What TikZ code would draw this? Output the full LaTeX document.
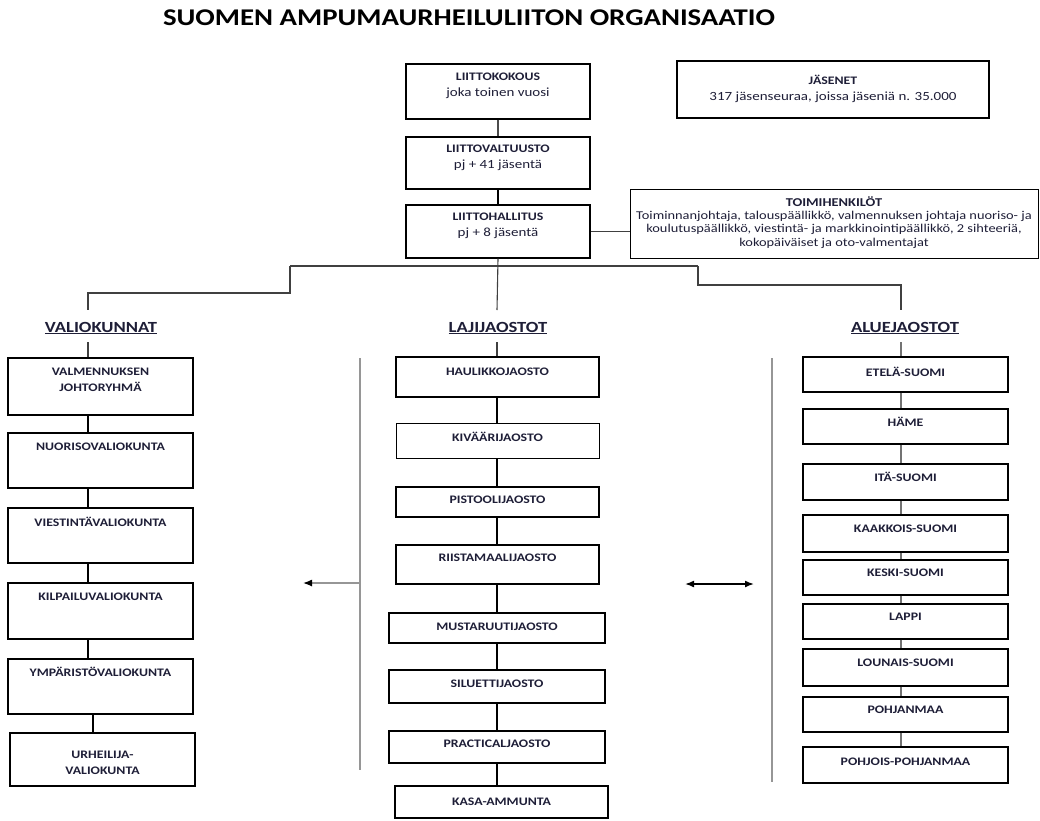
\documentclass[tikz,border=0pt]{standalone}
\usepackage{fontspec}
\setmainfont[FakeStretch=1.2]{Carlito}
\usetikzlibrary{arrows.meta}
\definecolor{txt}{RGB}{30,30,55}
\definecolor{vline}{RGB}{150,150,150}
\tikzset{
  box/.style={draw=black, line width=1.4pt, rectangle, inner sep=0pt},
  thinbox/.style={line width=1.0pt},
  lbl/.style={inner sep=0pt, align=center, text=txt, font=\fontsize{11.5}{16}\selectfont\bfseries},
  head/.style={inner sep=0pt, text=txt, font=\fontsize{15.5}{18}\selectfont\bfseries},
  conn/.style={draw=black, line width=1.3pt},
  tree/.style={draw=black!75, line width=1.1pt},
  gconn/.style={draw=black!55, line width=1.1pt},
  vsep/.style={draw=vline, line width=1.3pt}
}
\newcommand\sm[1]{{\fontsize{12.5}{16}\selectfont\mdseries #1}}
\newcommand\mkbox[8][]{%
  \pgfmathsetmacro\mbw{#5-#3}%
  \pgfmathsetmacro\mbh{#6-#4}%
  \pgfmathsetmacro\mbx{(#3+#5)/2}%
  \pgfmathsetmacro\mby{(#4+#6)/2}%
  \node[box,#1,minimum width=\mbw pt,minimum height=\mbh pt] (#2) at (\mbx,\mby) {};%
  \node[lbl] (#2t) at (\mbx,#7) {#8};}
\begin{document}
\begin{tikzpicture}[x=1pt,y=-1pt]
\useasboundingbox (0,0) rectangle (1040,820);
% title
\node[inner sep=0pt, text=black, font=\fontsize{24}{28}\selectfont\bfseries] (title) at (469,18) {SUOMEN AMPUMAURHEILULIITON ORGANISAATIO};
% top boxes
\mkbox{kok}{406}{64}{590}{119}{86}{LIITTOKOKOUS\\\sm{joka toinen vuosi}}
\mkbox{valt}{406}{137}{590}{189}{158}{LIITTOVALTUUSTO\\\sm{pj + 41 jäsentä}}
\mkbox{hall}{406}{205}{590}{258}{226}{LIITTOHALLITUS\\\sm{pj + 8 jäsentä}}
\mkbox{jas}{677}{61}{989}{118}{89}{JÄSENET\\\sm{317 jäsenseuraa, joissa jäseniä n. 35.000}}
\node[box,thinbox,minimum width=408pt,minimum height=69pt] (toimi) at (834,223.5) {};
\node[lbl,font=\fontsize{12}{13.2}\selectfont] (toimit) at (834,222.5) {\textbf{TOIMIHENKILÖT}\\Toiminnanjohtaja, talouspäällikkö, valmennuksen johtaja nuoriso- ja\\koulutuspäällikkö, viestintä- ja markkinointipäällikkö, 2 sihteeriä,\\kokopäiväiset ja oto-valmentajat};
\draw[conn,draw=black!70] (kok.south) -- (valt.north);
\draw[conn] (valt.south) -- (hall.north);
\draw[tree] (hall.east) -- (hall.east -| toimi.west);
% tree
\coordinate (tL) at (290,266);
\coordinate (tR) at (698,266);
\coordinate (sL) at (290,293);
\coordinate (vL) at (88,293);
\coordinate (vT) at (88,310);
\coordinate (sR) at (698,285);
\coordinate (aR) at (901,285);
\coordinate (aT) at (901,310);
\coordinate (lT) at (497,310);
\draw[tree] (tL) -- (tR);
\draw[tree] (hall.south) -- (lT);
\draw[tree] (tL) -- (sL) -- (vL) -- (vT);
\draw[tree] (tR) -- (sR) -- (aR) -- (aT);
% headings
\node[head] (hv) at (101,328) {\underline{VALIOKUNNAT}};
\node[head] (hl) at (498,328) {\underline{LAJIJAOSTOT}};
\node[head] (ha) at (905,328) {\underline{ALUEJAOSTOT}};
\coordinate (lx) at (88,342);
\coordinate (mx) at (497,342);
\coordinate (rx) at (901,342);
\coordinate (ux) at (93,0);
% left column
\mkbox{valm}{8}{358}{193}{415}{379.5}{VALMENNUKSEN\\JOHTORYHMÄ}
\mkbox{nuor}{8}{433}{193}{488}{447}{NUORISOVALIOKUNTA}
\mkbox{vies}{8}{508}{193}{563}{522}{VIESTINTÄVALIOKUNTA}
\mkbox{kilp}{8}{583}{193}{639}{597}{KILPAILUVALIOKUNTA}
\mkbox{ymp}{8}{659}{193}{714}{672}{YMPÄRISTÖVALIOKUNTA}
\mkbox[line width=1.6pt]{urh}{10}{733}{195}{786}{763}{URHEILIJA-\\VALIOKUNTA}
\draw[tree] (lx) -- (lx |- valm.north);
\draw[conn] (lx |- valm.south) -- (lx |- nuor.north);
\draw[conn] (lx |- nuor.south) -- (lx |- vies.north);
\draw[conn] (lx |- vies.south) -- (lx |- kilp.north);
\draw[conn] (lx |- kilp.south) -- (lx |- ymp.north);
\draw[conn] (ux |- ymp.south) -- (ux |- urh.north);
% middle column
\mkbox{haul}{396}{357}{599}{397}{372}{HAULIKKOJAOSTO}
\mkbox[thinbox]{kiv}{396}{423}{599}{458}{437}{KIVÄÄRIJAOSTO}
\mkbox{pist}{396}{487}{599}{517}{500}{PISTOOLIJAOSTO}
\mkbox{riis}{396}{545}{599}{584}{558}{RIISTAMAALIJAOSTO}
\mkbox[line width=1.2pt]{must}{389}{613}{605}{643}{627}{MUSTARUUTIJAOSTO}
\mkbox[line width=1.2pt]{silu}{389}{670}{605}{703}{684}{SILUETTIJAOSTO}
\mkbox[line width=1.2pt]{prac}{389}{731}{605}{763}{744}{PRACTICALJAOSTO}
\mkbox[line width=1.6pt]{kasa}{395}{786}{608}{818}{802}{KASA-AMMUNTA}
\draw[tree] (mx) -- (mx |- haul.north);
\draw[conn] (mx |- haul.south) -- (mx |- kiv.north);
\draw[conn] (mx |- kiv.south) -- (mx |- pist.north);
\draw[conn] (mx |- pist.south) -- (mx |- riis.north);
\draw[conn] (mx |- riis.south) -- (mx |- must.north);
\draw[conn] (mx |- must.south) -- (mx |- silu.north);
\draw[conn] (mx |- silu.south) -- (mx |- prac.north);
\draw[conn] (mx |- prac.south) -- (mx |- kasa.north);
% right column
\mkbox{etel}{803}{357}{1008}{392}{372}{ETELÄ-SUOMI}
\mkbox{hame}{803}{409}{1008}{444}{422}{HÄME}
\mkbox{ita}{803}{464}{1008}{500}{477}{ITÄ-SUOMI}
\mkbox{kaak}{803}{515}{1008}{552}{529}{KAAKKOIS-SUOMI}
\mkbox{kesk}{803}{560}{1008}{595}{573}{KESKI-SUOMI}
\mkbox{lapp}{803}{604}{1008}{639}{617}{LAPPI}
\mkbox{loun}{803}{649}{1008}{686}{663}{LOUNAIS-SUOMI}
\mkbox{pohj}{803}{697}{1008}{732}{710}{POHJANMAA}
\mkbox[line width=1.1pt]{pohp}{803}{747}{1008}{783}{762}{POHJOIS-POHJANMAA}
\draw[gconn] (rx) -- (rx |- etel.north);
\draw[gconn] (rx |- etel.south) -- (rx |- hame.north);
\draw[gconn] (rx |- hame.south) -- (rx |- ita.north);
\draw[gconn] (rx |- ita.south) -- (rx |- kaak.north);
\draw[gconn] (rx |- kaak.south) -- (rx |- kesk.north);
\draw[gconn] (rx |- kesk.south) -- (rx |- lapp.north);
\draw[gconn] (rx |- lapp.south) -- (rx |- loun.north);
\draw[gconn] (rx |- loun.south) -- (rx |- pohj.north);
\draw[gconn] (rx |- pohj.south) -- (rx |- pohp.north);
% separators and arrows
\coordinate (s1t) at (360,358);
\coordinate (s1b) at (360,770);
\coordinate (s2t) at (772,358);
\coordinate (s2b) at (772,782);
\coordinate (a1s) at (360,583);
\coordinate (a1e) at (303,583);
\coordinate (a2s) at (685,584);
\coordinate (a2e) at (754,584);
\draw[vsep] (s1t) -- (s1b);
\draw[vsep] (s2t) -- (s2b);
\draw[vsep, -{Latex[color=black,length=9pt,width=7pt]}] (a1s) -- (a1e);
\draw[line width=1.6pt, {Latex[length=9pt,width=7pt]}-{Latex[length=9pt,width=7pt]}] (a2s) -- (a2e);
\end{tikzpicture}
\end{document}
